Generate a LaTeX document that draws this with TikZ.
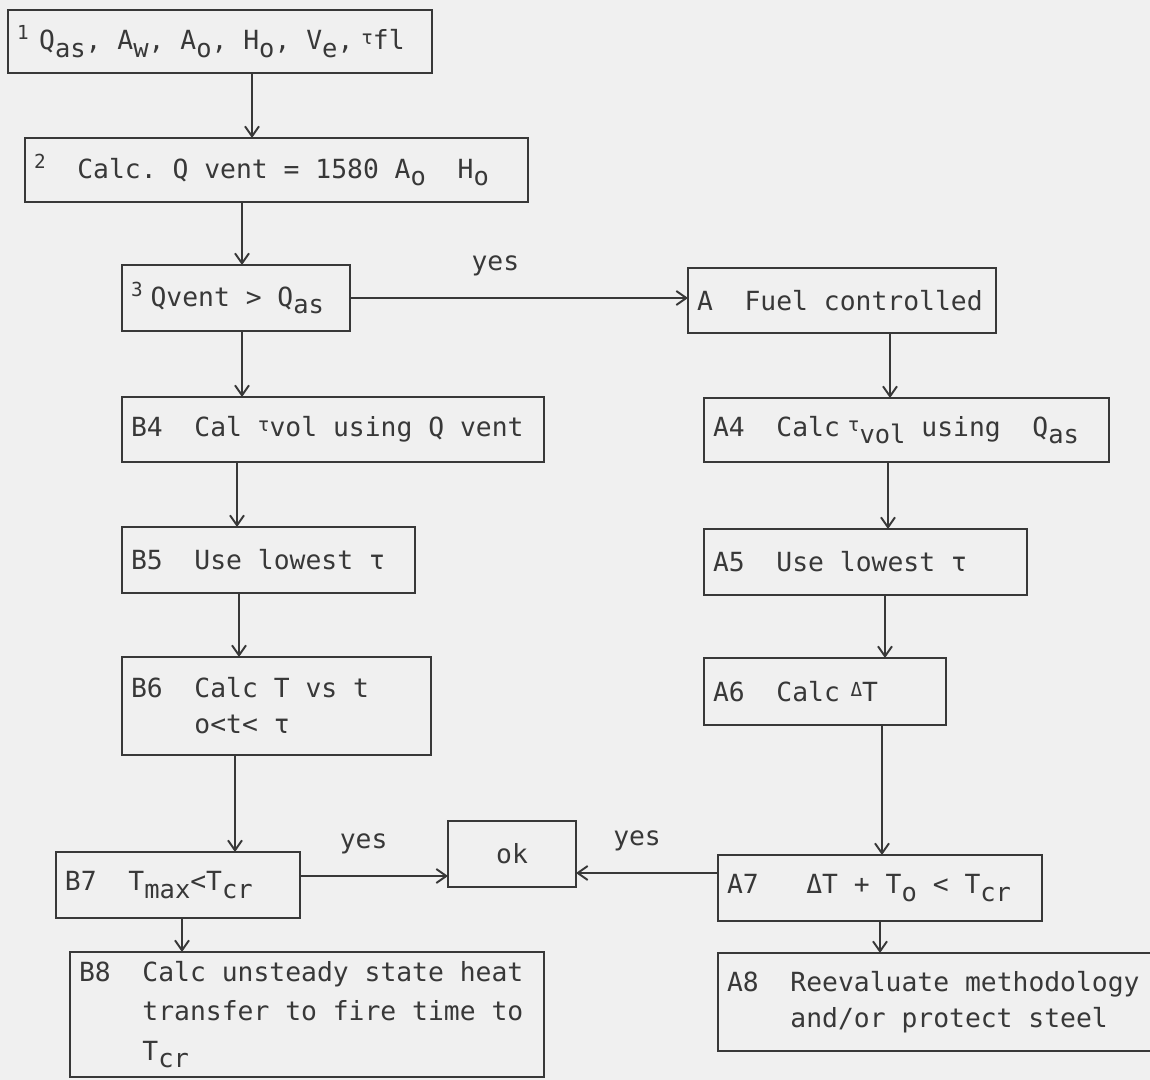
\documentclass[tikz,border=0pt]{standalone}
\usepackage{fontspec}
\setmainfont{DejaVu Sans Mono}
\usepackage{tikz}
\usetikzlibrary{arrows.meta,positioning}
\definecolor{ink}{gray}{0.22}
\definecolor{paper}{gray}{0.94}
\newcommand{\boxspace}{\spaceskip=0.602em\relax\frenchspacing}
\newcommand{\lowtxt}[1]{\raisebox{-0.5ex}{\fontsize{14.5pt}{15pt}\selectfont #1}}
\newcommand{\uptxt}[1]{\raisebox{0.7ex}{\fontsize{11pt}{12pt}\selectfont #1}}
\newcommand{\smallsym}[1]{\raisebox{0.35ex}{\fontsize{11pt}{12pt}\selectfont #1}}

\begin{document}
\begin{tikzpicture}[every node/.style={font=\fontsize{15pt}{20.5pt}\selectfont\boxspace, text=ink},
		box/.style 2 args={draw=ink, line width=1.1pt, outer sep=0pt, inner xsep=0.18cm, align=flush left, text width=#1, minimum height=#2},
		arr/.style={-{Straight Barb[length=2mm,width=2.8mm]}, draw=ink, line width=1.1pt}]
	\fill[paper] (0,0) rectangle (23,-21.6);
	\useasboundingbox (0,0) rectangle (23,-21.6);
	
	\node[box={8.12cm}{1.26cm}, anchor=north west] (s1) at (0.16,-0.2) {\uptxt{1}\hspace{0.4em}Q\lowtxt{as}, A\lowtxt{w}, A\lowtxt{o}, H\lowtxt{o}, V\lowtxt{e},\hspace{0.3em}\smallsym{τ}fl};
	\node[box={9.7cm}{1.28cm}, below right=1.3cm and 0.34cm of s1.south west] (s2) {\uptxt{2}~~Calc. Q vent = 1580 A\lowtxt{o}~~H\lowtxt{o}};
	\node[box={4.2cm}{1.32cm}, below right=1.26cm and 1.94cm of s2.south west] (s3) {\uptxt{3}\hspace{0.3em}Qvent > Q\lowtxt{as}};
	\node[box={5.8cm}{1.3cm}, below right=0.06cm and 6.76cm of s3.north east] (fa) {A~~Fuel controlled};
	
	\node[box={8.08cm}{1.3cm}, below right=1.32cm and 0cm of s3.south west] (b4) {B4~~Cal \smallsym{τ}vol using Q vent};
	\node[box={5.5cm}{1.32cm}, below right=1.3cm and 0cm of b4.south west] (b5) {B5~~Use lowest τ};
	\node[box={5.82cm}{1.96cm}, below right=1.28cm and 0cm of b5.south west] (b6) {B6~~Calc T vs t\\\phantom{B6~~}o<t< τ};
	\node[box={4.52cm}{1.32cm}, below right=1.94cm and -1.32cm of b6.south west] (b7) {B7~~T\lowtxt{max}<T\lowtxt{cr}};
	\node[box={9.12cm}{2.5cm}, font=\fontsize{15pt}{22.5pt}\selectfont\boxspace, below right=0.68cm and 0.28cm of b7.south west] (b8) {B8~~Calc unsteady state heat\\\phantom{B8~~}transfer to fire time to\\\phantom{B8~~}T\lowtxt{cr}};
	
	\node[box={7.74cm}{1.28cm}, below right=1.3cm and 0.32cm of fa.south west] (a4) {A4~~Calc\hspace{0.3em}\smallsym{τ}\lowtxt{vol} using~~Q\lowtxt{as}};
	\node[box={6.1cm}{1.32cm}, below right=1.34cm and 0cm of a4.south west] (a5) {A5~~Use lowest τ};
	\node[box={4.48cm}{1.34cm}, below right=1.26cm and 0cm of a5.south west] (a6) {A6~~Calc\hspace{0.4em}\smallsym{Δ}T};
	\node[box={6.12cm}{1.32cm}, below right=2.6cm and 0.28cm of a6.south west] (a7) {A7~~~ΔT + T\lowtxt{o} < T\lowtxt{cr}};
	\node[box={8.7cm}{1.96cm}, below right=0.64cm and 0cm of a7.south west] (a8) {A8~~Reevaluate methodology\\\phantom{A8~~}and/or protect steel};
	
	\node[box={2.2cm}{1.32cm}, align=flush center, below right=-0.62cm and 2.96cm of b7.north east] (ok) {ok};
	
	\draw[arr] ([xshift=4.88cm]s1.south west) -- ([xshift=4.88cm]s1.south west |- s2.north);
	\draw[arr] ([xshift=4.34cm]s2.south west) -- ([xshift=4.34cm]s2.south west |- s3.north);
	\draw[arr] ([xshift=2.4cm]s3.south west) -- ([xshift=2.4cm]s3.south west |- b4.north);
	\draw[arr] ([xshift=2.3cm]b4.south west) -- ([xshift=2.3cm]b4.south west |- b5.north);
	\draw[arr] ([xshift=2.34cm]b5.south west) -- ([xshift=2.34cm]b5.south west |- b6.north);
	\draw[arr] ([xshift=2.26cm]b6.south west) -- ([xshift=2.26cm]b6.south west |- b7.north);
	\draw[arr] ([xshift=2.52cm]b7.south west) -- ([xshift=2.52cm]b7.south west |- b8.north);
	
	\draw[arr] ([xshift=4.04cm]fa.south west) -- ([xshift=4.04cm]fa.south west |- a4.north);
	\draw[arr] ([xshift=3.68cm]a4.south west) -- ([xshift=3.68cm]a4.south west |- a5.north);
	\draw[arr] ([xshift=3.62cm]a5.south west) -- ([xshift=3.62cm]a5.south west |- a6.north);
	\draw[arr] ([xshift=3.56cm]a6.south west) -- ([xshift=3.56cm]a6.south west |- a7.north);
	\draw[arr] ([xshift=3.24cm]a7.south west) -- ([xshift=3.24cm]a7.south west |- a8.north);
	
	\draw[arr] (s3.east) -- (s3.east -| fa.west) node[pos=0.43, above=0.3cm] {yes};
	\draw[arr] ([yshift=0.18cm]b7.east) -- ([yshift=0.18cm]b7.east -| ok.west) node[pos=0.43, above=0.3cm] {yes};
	\draw[arr] ([yshift=0.3cm]a7.west) -- ([yshift=0.3cm]a7.west -| ok.east) node[pos=0.57, above=0.3cm] {yes};
\end{tikzpicture}
\end{document}
